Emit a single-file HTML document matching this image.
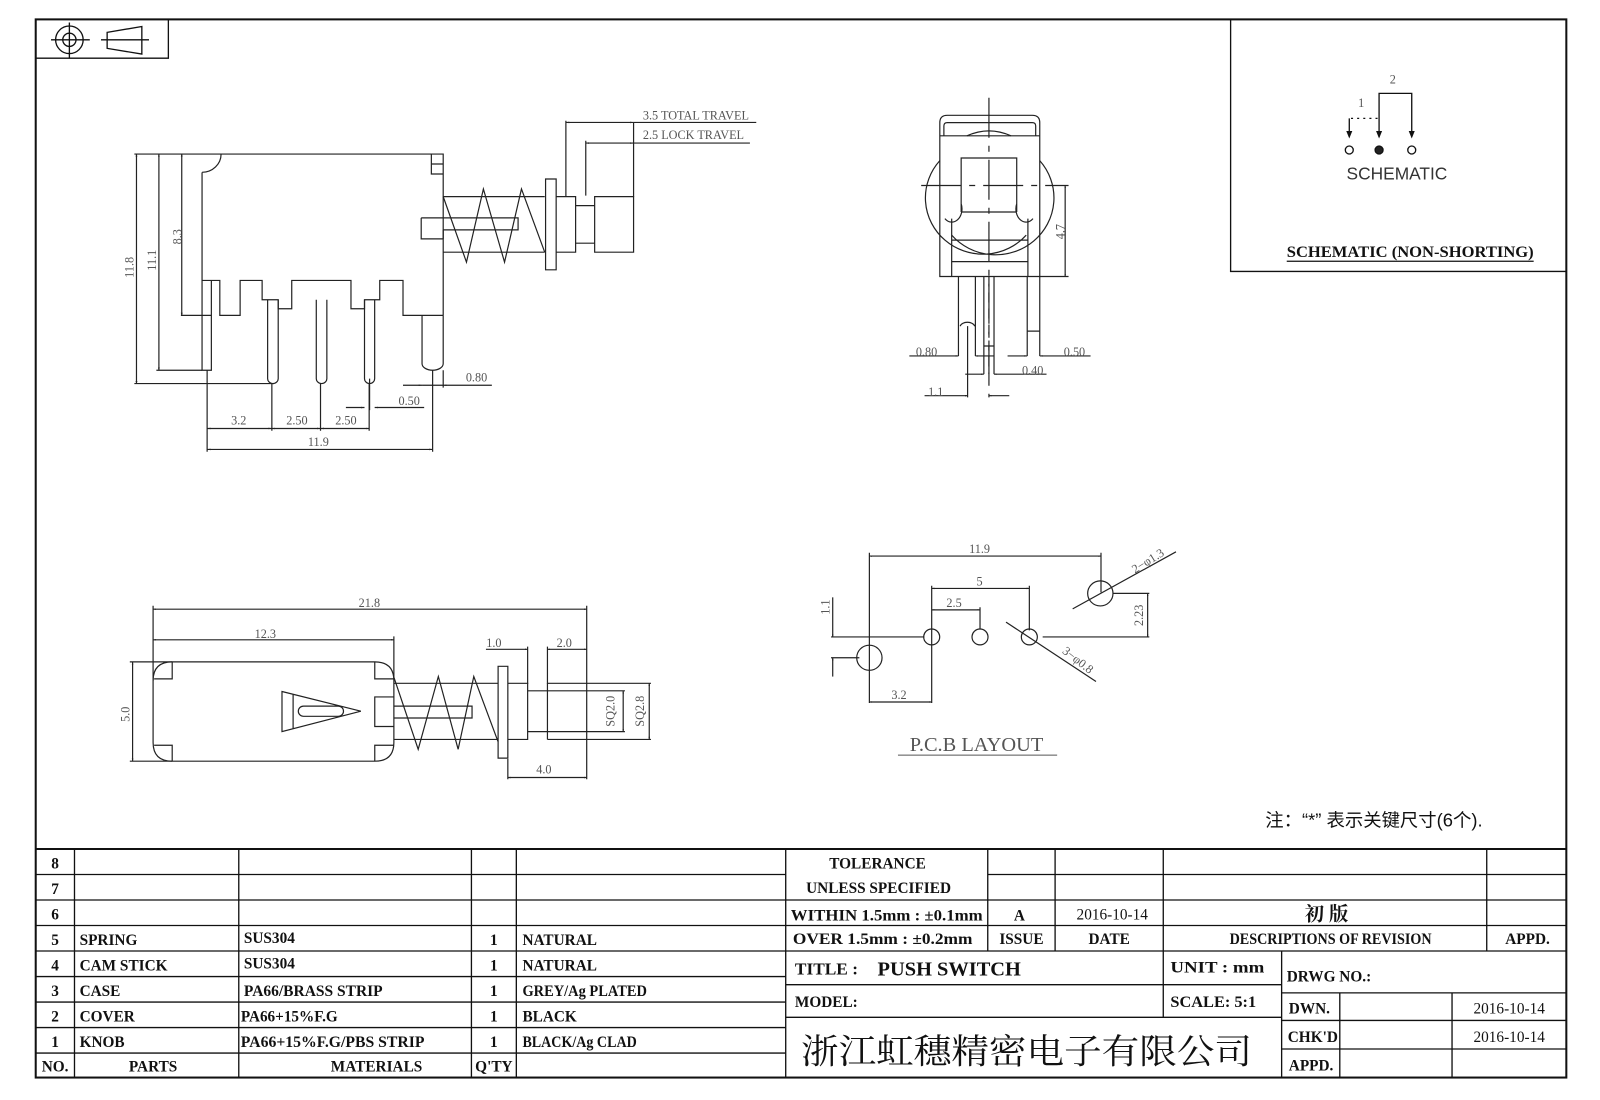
<!DOCTYPE html>
<html><head><meta charset="utf-8"><style>
html,body{margin:0;padding:0;background:#fff;}
svg{display:block;}
.l{fill:none;stroke:#222;stroke-width:1.2;vector-effect:non-scaling-stroke;}
.t{stroke:#111;stroke-width:1.3;fill:none;}
.dim{font-family:"Liberation Serif",serif;font-size:12px;fill:#555;}
.tb{font-family:"Liberation Serif","Noto Serif CJK SC",serif;font-weight:bold;font-size:15px;fill:#111;}
</style></head><body>
<svg width="1600" height="1100" viewBox="0 0 1568 1078" preserveAspectRatio="none" xmlns="http://www.w3.org/2000/svg">
<defs>
<marker id="a" viewBox="0 0 10 6" refX="10" refY="3" markerWidth="8" markerHeight="5" markerUnits="userSpaceOnUse" orient="auto-start-reverse"><path d="M0,0 L10,3 L0,6 Z" fill="#222"/></marker>
</defs>
<rect width="1568" height="1078" fill="#fff"/>
<!-- frame -->
<rect x="35" y="19" width="1500" height="1037" fill="none" stroke="#111" stroke-width="2"/>
<path class="t" d="M35,57 H165 V19"/>
<!-- symbol -->
<g class="t" stroke-width="1.2">
<circle cx="68" cy="39" r="13.5"/><circle cx="68" cy="39" r="6.5"/>
<path d="M50,39 H88 M68,22 V57"/>
<path d="M105,31.7 L139,26 L139,53 L105,47.4 Z M99,39 H146"/>
</g>
<!-- schematic box -->
<path class="t" d="M1206,19 V266 H1535"/>
<g class="t" stroke-width="1.2">
<path d="M1351.5,134 V91.5 H1383.5 V134"/>
<path d="M1322.3,116 V134" /><path d="M1324,116 H1350" stroke-dasharray="2,4"/>
<path d="M1322.3,134 l-2,-5 h4z M1351.5,134 l-2,-5 h4z M1383.5,134 l-2,-5 h4z" fill="#111"/>
<circle cx="1322.3" cy="147" r="3.9"/><circle cx="1351.5" cy="147" r="3.9" fill="#222"/><circle cx="1383.5" cy="147" r="3.9"/>
</g>
<text x="1365" y="82" class="dim" text-anchor="middle" font-size="13">2</text>
<text x="1334" y="105" class="dim" text-anchor="middle" font-size="13">1</text>
<text x="1369" y="176" font-family="Liberation Sans,sans-serif" font-size="17" fill="#333" text-anchor="middle">SCHEMATIC</text>
<text x="1382" y="252" class="tb" font-size="17" text-anchor="middle" font-weight="normal" textLength="242" lengthAdjust="spacingAndGlyphs">SCHEMATIC (NON-SHORTING)</text>
<path d="M1261,256 H1503" stroke="#111" stroke-width="1.2"/>

<!-- TOP-LEFT VIEW -->
<g transform="translate(106.8,98.8) scale(0.4146,0.326)">
<path class="l" d="M60,160 H790 V645 M220,215 V540 M265,160 A45,55 0 0 1 220,215 M762,160 V220 H790 M762,190 H790"/>
<path class="l" d="M220,540 H262 V645 H310 V540 H362 V598 H400 V625 H432 V540 H572 V625 H604 V598 H640 V540 H695 V645 H790"/>
<path class="l" d="M220,540 V810 H242 V540 M170,645 H242"/>
<path class="l" d="M375,598 V835 A12.5,15 0 0 0 400,835 V598 M490,598 V835 A12.5,15 0 0 0 515,835 V598 M604,598 V835 A12,15 0 0 0 628,835 V598 M616,835 V930"/>
<path class="l" d="M740,645 V790 A25,20 0 0 0 790,790 V645"/>
<path class="l" d="M790,288 H1030 M790,455 H1030 M738,352 H967 V388 H790 M738,352 V415 H790 M790,388 V415"/>
<path class="l" d="M790,288 L845,485 L885,265 L935,485 L975,265 L1030,455"/>
<path class="l" d="M1032,235 H1057 V508 H1032 Z M1057,288 H1103 V455 H1057 M1103,315 H1148 M1103,428 H1148 M1148,288 H1240 V455 H1148 Z"/>
<path class="l" d="M1240,288 V65 M1080,288 V60 M1127,285 V120"/>
<path class="l" d="M1080,65 H1240" marker-start="url(#a)" marker-end="url(#a)"/><path class="l" d="M1240,65 H1530"/>
<path class="l" d="M1127,127 H1240" marker-start="url(#a)" marker-end="url(#a)"/><path class="l" d="M1240,127 H1515"/>
<path class="l" d="M65,160 V850" marker-start="url(#a)" marker-end="url(#a)"/>
<path class="l" d="M118,160 V810" marker-start="url(#a)" marker-end="url(#a)"/>
<path class="l" d="M172,160 V645" marker-start="url(#a)" marker-end="url(#a)"/>
<path class="l" d="M60,850 H390 M112,810 H220"/>
<path class="l" d="M232,810 V1055 M385,850 V992 M500,850 V992 M615,850 V992 M765,810 V1055 M790,810 V862"/>
<path class="l" d="M232,985 H385" marker-start="url(#a)" marker-end="url(#a)"/>
<path class="l" d="M385,985 H500" marker-start="url(#a)" marker-end="url(#a)"/>
<path class="l" d="M500,985 H615" marker-start="url(#a)" marker-end="url(#a)"/>
<path class="l" d="M232,1048 H765" marker-start="url(#a)" marker-end="url(#a)"/>
<path class="l" d="M695,855 H740" marker-end="url(#a)"/><path class="l" d="M905,855 H790" marker-end="url(#a)"/><path class="l" d="M740,855 H790"/>
<path class="l" d="M560,922 H604" marker-end="url(#a)"/><path class="l" d="M745,922 H628" marker-end="url(#a)"/>
</g>
<text class="dim" transform="translate(131,262) rotate(-90)" text-anchor="middle">11.8</text>
<text class="dim" transform="translate(153,255) rotate(-90)" text-anchor="middle">11.1</text>
<text class="dim" transform="translate(178,232) rotate(-90)" text-anchor="middle">8.3</text>
<text class="dim" x="234" y="416" text-anchor="middle">3.2</text>
<text class="dim" x="291" y="416" text-anchor="middle">2.50</text>
<text class="dim" x="339" y="416" text-anchor="middle">2.50</text>
<text class="dim" x="312" y="437" text-anchor="middle">11.9</text>
<text class="dim" x="467" y="374" text-anchor="middle">0.80</text>
<text class="dim" x="401" y="397" text-anchor="middle">0.50</text>
<text class="dim" x="630" y="117">3.5 TOTAL TRAVEL</text>
<text class="dim" x="630" y="136">2.5 LOCK TRAVEL</text>

<!-- FRONT VIEW -->
<g transform="translate(859.6,87.7) scale(0.332,0.3244)">
<path class="l" d="M330,25 V930" stroke-dasharray="40,8,6,8"/>
<path class="l" d="M130,290 H565" stroke-dasharray="40,8,6,8"/>
<path class="l" d="M185,565 V100 Q185,78 207,78 H458 Q480,78 480,100 V565 Z M185,140 H480 M197,140 V110 Q197,100 207,100 H458 Q468,100 468,110 V140"/>
<path class="l" d="M265,140 Q330,110 395,140"/>
<path class="l" d="M185,215 A165,165 0 0 0 440,440 M480,215 A165,165 0 0 1 220,440"/>
<path class="l" d="M248,370 V207 H412 V370 M248,370 H412 M248,345 A30,40 0 0 1 200,390 M412,345 A30,40 0 0 0 460,390"/>
<path class="l" d="M220,390 V565 M445,390 V565 M220,455 H445 M220,520 H445"/>
<path class="l" d="M240,565 V805 M290,565 V805 M245,715 A22,15 0 0 1 288,715 M267,715 V930"/>
<path class="l" d="M315,565 V860 M345,565 V860 M315,775 H345" /><path class="l" d="M330,565 V860" stroke-dasharray="10,6"/>
<path class="l" d="M443,565 V805 M480,565 V805 M443,730 H480"/>
<path class="l" d="M480,565 H565"/>
<path class="l" d="M555,290 V565" marker-start="url(#a)" marker-end="url(#a)"/>
<path class="l" d="M95,805 H240" marker-end="url(#a)"/><path class="l" d="M345,805 H290" marker-end="url(#a)"/>
<path class="l" d="M385,805 H443" marker-end="url(#a)"/><path class="l" d="M630,805 H480" marker-end="url(#a)"/>
<path class="l" d="M260,860 H315" marker-end="url(#a)"/><path class="l" d="M500,860 H345" marker-end="url(#a)"/>
<path class="l" d="M140,925 H267" marker-end="url(#a)"/><path class="l" d="M390,925 H330" marker-end="url(#a)"/>
</g>
<text class="dim" x="908" y="349" text-anchor="middle">0.80</text>
<text class="dim" x="1053" y="349" text-anchor="middle">0.50</text>
<text class="dim" x="1012" y="367" text-anchor="middle">0.40</text>
<text class="dim" x="917" y="388" text-anchor="middle">1.1</text>
<text class="dim" transform="translate(1043,227) rotate(-90)" text-anchor="middle">4.7</text>

<!-- BOTTOM VIEW -->
<g transform="translate(117,577) scale(0.3405,0.3333)">
<path class="l" d="M97,50 V270 M1345,50 V560 M790,140 V260"/>
<path class="l" d="M97,60 H1345" marker-start="url(#a)" marker-end="url(#a)"/>
<path class="l" d="M97,150 H790" marker-start="url(#a)" marker-end="url(#a)"/>
<path class="l" d="M152,215 H735 Q790,215 790,270 V452 Q790,507 735,507 H152 Q97,507 97,452 V270 Q97,215 152,215 Z"/>
<path class="l" d="M30,215 H152 M30,507 H152"/>
<path class="l" d="M38,215 V507" marker-start="url(#a)" marker-end="url(#a)"/>
<path class="l" d="M100,265 H152 V215 M100,460 H152 V507 M735,215 V265 H790 M735,507 V460 H790"/>
<path class="l" d="M468,302 L695,360 L468,420 Z M500,310 V410"/>
<path class="l" d="M530,345 H630 A15,15 0 0 1 630,375 H530 A15,15 0 0 1 530,345 Z"/>
<path class="l" d="M790,318 H735 V405 H790"/>
<path class="l" d="M790,278 H1090 M790,443 H1090 M790,345 H1015 V380 H790"/>
<path class="l" d="M790,260 L860,472 L918,258 L975,472 L1020,258 L1090,450"/>
<path class="l" d="M1090,228 H1118 V498 H1090 Z M1118,278 H1175 V443 H1118 M1175,300 H1232 M1175,420 H1232"/>
<path class="l" d="M1232,278 V443 M1232,278 H1530 M1232,443 H1530 M1232,300 H1455 M1232,420 H1455"/>
<path class="l" d="M1175,170 V280 M1232,170 V280 M1118,500 V560"/>
<path class="l" d="M1055,178 H1175" marker-end="url(#a)"/><path class="l" d="M1232,178 H1345" marker-start="url(#a)" marker-end="url(#a)"/>
<path class="l" d="M1118,555 H1345" marker-start="url(#a)" marker-end="url(#a)"/>
<path class="l" d="M1450,300 V420" marker-start="url(#a)" marker-end="url(#a)"/>
<path class="l" d="M1525,278 V443" marker-start="url(#a)" marker-end="url(#a)"/>
</g>
<text class="dim" x="362" y="595" text-anchor="middle">21.8</text>
<text class="dim" x="260" y="625" text-anchor="middle">12.3</text>
<text class="dim" x="484" y="634" text-anchor="middle">1.0</text>
<text class="dim" x="553" y="634" text-anchor="middle">2.0</text>
<text class="dim" transform="translate(127,700) rotate(-90)" text-anchor="middle">5.0</text>
<text class="dim" transform="translate(602,697) rotate(-90)" text-anchor="middle" font-size="11">SQ2.0</text>
<text class="dim" transform="translate(631,697) rotate(-90)" text-anchor="middle" font-size="11">SQ2.8</text>
<text class="dim" x="533" y="758" text-anchor="middle">4.0</text>

<!-- PCB LAYOUT -->
<g transform="translate(793.2,520.7) scale(0.3266,0.3235)">
<path class="l" d="M180,65 V520 M875,65 V185 M367,165 V520 M660,165 V300 M512,230 V296"/>
<path class="l" d="M180,75 H875" marker-start="url(#a)" marker-end="url(#a)"/>
<path class="l" d="M367,173 H660" marker-start="url(#a)" marker-end="url(#a)"/>
<path class="l" d="M367,238 H512" marker-start="url(#a)" marker-end="url(#a)"/>
<path class="l" d="M180,517 H367" marker-start="url(#a)" marker-end="url(#a)"/>
<circle class="l" cx="180" cy="383" r="38"/><circle class="l" cx="873" cy="188" r="38"/>
<circle class="l" cx="367" cy="320" r="24"/><circle class="l" cx="512" cy="320" r="24"/><circle class="l" cx="660" cy="320" r="24"/>
<path class="l" d="M65,320 H345 M65,383 H150 M912,188 H1020 M700,320 H1020"/>
<path class="l" d="M70,200 V320" marker-end="url(#a)"/><path class="l" d="M70,440 V383" marker-end="url(#a)"/>
<path class="l" d="M1015,188 V320" marker-start="url(#a)" marker-end="url(#a)"/>
<path class="l" d="M790,235 L1100,62"/>
<path class="l" d="M590,275 L860,455"/>
</g>
<text class="dim" x="960" y="542" text-anchor="middle">11.9</text>
<text class="dim" x="960" y="574" text-anchor="middle">5</text>
<text class="dim" x="935" y="595" text-anchor="middle">2.5</text>
<text class="dim" x="881" y="685" text-anchor="middle">3.2</text>
<text class="dim" transform="translate(813,595) rotate(-90)" text-anchor="middle">1.1</text>
<text class="dim" transform="translate(1120,603) rotate(-90)" text-anchor="middle">2.23</text>
<text class="dim" transform="translate(1127,553) rotate(-32)" text-anchor="middle" font-size="14">2−φ1.3</text>
<text class="dim" transform="translate(1054,650) rotate(38)" text-anchor="middle" font-size="14">3−φ0.8</text>
<text x="957" y="736" font-family="Liberation Serif,serif" font-size="20" fill="#555" text-anchor="middle">P.C.B  LAYOUT</text>
<path d="M880,740 H1036" stroke="#555" stroke-width="1"/>

<text x="1240" y="810" font-family="Liberation Sans,'Noto Sans CJK SC',sans-serif" font-size="18" fill="#111">注：“*” 表示关键尺寸(6个).</text>

<!-- TITLE BLOCK -->
<g class="t">
<path d="M35,832 H1535" stroke-width="2"/>
<path d="M35,857 H770 M35,882 H770 M35,907 H770 M35,932 H770 M35,957 H770 M35,982 H770 M35,1007 H770 M35,1032 H770"/>
<path d="M73,832 V1056 M234,832 V1056 M462,832 V1056 M506,832 V1056 M770,832 V1056"/>
<path d="M968,857 H1535 M770,882 H1535 M770,907 H1535 M770,932 H1535"/>
<path d="M968,832 V932 M1034,832 V932 M1140,832 V997 M1457,832 V932"/>
<path d="M770,965 H1256 M770,997 H1256 M1256,932 V1056"/>
<path d="M1256,973 H1535 M1256,1000 H1535 M1256,1028 H1535 M1313,973 V1056 M1423,973 V1056"/>
</g>
<g class="tb">
<text x="54" y="851" text-anchor="middle">8</text>
<text x="54" y="876" text-anchor="middle">7</text>
<text x="54" y="901" text-anchor="middle">6</text>
<text x="54" y="926" text-anchor="middle">5</text>
<text x="54" y="951" text-anchor="middle">4</text>
<text x="54" y="976" text-anchor="middle">3</text>
<text x="54" y="1001" text-anchor="middle">2</text>
<text x="54" y="1026" text-anchor="middle">1</text>
<text x="54" y="1050" text-anchor="middle">NO.</text>
<text x="78" y="926">SPRING</text>
<text x="78" y="951">CAM STICK</text>
<text x="78" y="976">CASE</text>
<text x="78" y="1001">COVER</text>
<text x="78" y="1026">KNOB</text>
<text x="150" y="1050" text-anchor="middle">PARTS</text>
<text x="239" y="924">SUS304</text>
<text x="239" y="949">SUS304</text>
<text x="239" y="976" textLength="136" lengthAdjust="spacingAndGlyphs">PA66/BRASS STRIP</text>
<text x="236" y="1001" textLength="95" lengthAdjust="spacingAndGlyphs">PA66+15%F.G</text>
<text x="236" y="1026" textLength="180" lengthAdjust="spacingAndGlyphs">PA66+15%F.G/PBS STRIP</text>
<text x="369" y="1050" text-anchor="middle">MATERIALS</text>
<text x="484" y="926" text-anchor="middle">1</text>
<text x="484" y="951" text-anchor="middle">1</text>
<text x="484" y="976" text-anchor="middle">1</text>
<text x="484" y="1001" text-anchor="middle">1</text>
<text x="484" y="1026" text-anchor="middle">1</text>
<text x="484" y="1050" text-anchor="middle">Q'TY</text>
<text x="512" y="926">NATURAL</text>
<text x="512" y="951">NATURAL</text>
<text x="512" y="976" textLength="122" lengthAdjust="spacingAndGlyphs">GREY/Ag PLATED</text>
<text x="512" y="1001">BLACK</text>
<text x="512" y="1026" textLength="112" lengthAdjust="spacingAndGlyphs">BLACK/Ag CLAD</text>
<text x="860" y="851" text-anchor="middle">TOLERANCE</text>
<text x="861" y="875" text-anchor="middle" textLength="142" lengthAdjust="spacingAndGlyphs">UNLESS  SPECIFIED</text>
<text x="775" y="902" textLength="188" lengthAdjust="spacingAndGlyphs">WITHIN 1.5mm : ±0.1mm</text>
<text x="777" y="925" textLength="176" lengthAdjust="spacingAndGlyphs">OVER 1.5mm : ±0.2mm</text>
<text x="999" y="902" text-anchor="middle">A</text>
<text x="1090" y="901" text-anchor="middle" font-weight="normal">2016-10-14</text>
<text x="1300" y="902" text-anchor="middle" font-size="19">初  版</text>
<text x="1001" y="925" text-anchor="middle">ISSUE</text>
<text x="1087" y="925" text-anchor="middle">DATE</text>
<text x="1304" y="925" text-anchor="middle" textLength="198" lengthAdjust="spacingAndGlyphs">DESCRIPTIONS OF REVISION</text>
<text x="1497" y="925" text-anchor="middle">APPD.</text>
<text x="779" y="955" font-size="17">TITLE :</text>
<text x="860" y="956" font-size="20">PUSH SWITCH</text>
<text x="779" y="987">MODEL:</text>
<text x="1147" y="953" textLength="92" lengthAdjust="spacingAndGlyphs">UNIT :  mm</text>
<text x="1147" y="987" textLength="84" lengthAdjust="spacingAndGlyphs">SCALE:  5:1</text>
<text x="1261" y="962">DRWG NO.:</text>
<text x="1263" y="993">DWN.</text>
<text x="1262" y="1021">CHK'D</text>
<text x="1263" y="1049">APPD.</text>
<text x="1479" y="993" text-anchor="middle" font-weight="normal">2016-10-14</text>
<text x="1479" y="1021" text-anchor="middle" font-weight="normal">2016-10-14</text>
</g>
<text x="785" y="1042" font-family="'Noto Serif CJK SC',serif" font-size="34" fill="#111" textLength="442" lengthAdjust="spacingAndGlyphs">浙江虹穗精密电子有限公司</text>
</svg>
</body></html>
